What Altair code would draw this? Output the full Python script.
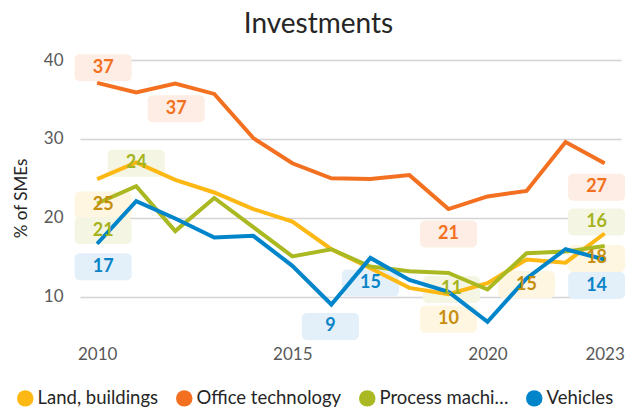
import altair as alt
import pandas as pd

years = list(range(2010, 2024))
series_names = ["Land, buildings", "Office technology", "Process machinery", "Vehicles"]
land = [24.9, 27.0, 24.8, 23.2, 21.1, 19.5, 16.0, 13.6, 11.1, 10.3, 11.7, 14.7, 14.3, 18.0]
office = [37.1, 35.9, 37.0, 35.7, 30.1, 26.9, 25.0, 24.9, 25.4, 21.1, 22.7, 23.4, 29.6, 26.9]
process = [21.8, 24.0, 18.3, 22.5, 18.8, 15.1, 16.0, 13.8, 13.2, 13.0, 10.9, 15.5, 15.7, 16.4]
vehicles = [16.7, 22.1, 19.9, 17.5, 17.7, 13.9, 9.0, 14.9, 12.1, 10.6, 6.8, 12.3, 16.0, 14.7]

line_colors = ["#FDB813", "#F37021", "#AAB922", "#0085CA"]
text_colors = ["#C68E0E", "#F37021", "#A5B41E", "#0A84C6"]
box_colors = ["#FEF6E1", "#FDEDE4", "#F4F6E3", "#E3F0FA"]

label_series = ["Office technology"] * 4 + ["Land, buildings"] * 4 + ["Process machinery"] * 4 + ["Vehicles"] * 4
label_years = [2010, 2012, 2019, 2023, 2010, 2019, 2021, 2023, 2010, 2011, 2020, 2023, 2010, 2016, 2017, 2023]
label_texts = ["37", "37", "21", "27", "25", "10", "15", "18", "21", "24", "11", "16", "17", "9", "15", "14"]

# placement of each label (pixel offsets from its point), layout only
placement = {
    ("Office technology", 2010): (6, -15), ("Office technology", 2012): (1, 25),
    ("Office technology", 2019): (0, 25), ("Office technology", 2023): (-8, 24),
    ("Land, buildings", 2010): (6, 26), ("Land, buildings", 2019): (0, 25),
    ("Land, buildings", 2021): (0, 25), ("Land, buildings", 2023): (-8, 25),
    ("Process machinery", 2010): (6, 27), ("Process machinery", 2011): (0, -23),
    ("Process machinery", 2020): (-36, 0), ("Process machinery", 2023): (-8, -24),
    ("Vehicles", 2010): (6, 23), ("Vehicles", 2016): (-1, 22),
    ("Vehicles", 2017): (0, 25), ("Vehicles", 2023): (-8, 26),
}

W, H = 541, 276
XDOM = [2009.56, 2023.42]
YDOM = [5, 40]
ppy = W / (XDOM[1] - XDOM[0])
ppu = H / (YDOM[1] - YDOM[0])

values = {"Land, buildings": land, "Office technology": office,
          "Process machinery": process, "Vehicles": vehicles}

rows = []
for s in series_names:
    for y, v in zip(years, values[s]):
        rows.append({"year": y, "value": v, "series": s})
df = pd.DataFrame(rows)

lrows = []
for s, yr, t in zip(label_series, label_years, label_texts):
    i = series_names.index(s)
    v = values[s][years.index(yr)]
    dx, dy = placement[(s, yr)]
    lx = yr + dx / ppy
    ly = v - dy / ppu
    lrows.append({
        "lx": lx, "ly": ly,
        "x1": lx - 28.5 / ppy, "x2": lx + 28.5 / ppy,
        "y1": ly - 13.5 / ppu, "y2": ly + 13.5 / ppu,
        "text": t, "tcolor": text_colors[i], "bcolor": box_colors[i],
    })
ldf = pd.DataFrame(lrows)

FONT = "Lato"
xaxis = alt.Axis(values=[2010, 2015, 2020, 2023], format="d", grid=False, domain=False,
                 ticks=False, labelFontSize=17, labelColor="#595959", labelPadding=10,
                 labelFont=FONT, title=None)
yaxis = alt.Axis(values=[10, 20, 30, 40], grid=True, gridColor="#d4d4d4", gridWidth=1.5,
                 domain=False, ticks=False, labelFontSize=17, labelColor="#595959",
                 labelPadding=17, labelFont=FONT, title="% of SMEs", titleFontSize=17,
                 titleFont=FONT, titleFontWeight="normal", titleColor="#262626",
                 titlePadding=13)
xscale = alt.Scale(domain=XDOM, nice=False, zero=False)
yscale = alt.Scale(domain=YDOM, nice=False, zero=False)

boxes = alt.Chart(ldf).mark_rect(cornerRadius=5).encode(
    x=alt.X("x1:Q", scale=xscale, axis=xaxis, title=None),
    x2="x2:Q",
    y=alt.Y("y1:Q", scale=yscale, axis=yaxis, title="% of SMEs"),
    y2="y2:Q",
    fill=alt.Fill("bcolor:N", scale=None),
)

lines = alt.Chart(df).mark_line(strokeWidth=4, strokeJoin="miter").encode(
    x=alt.X("year:Q", scale=xscale, axis=xaxis, title=None),
    y=alt.Y("value:Q", scale=yscale, axis=yaxis, title="% of SMEs"),
    color=alt.Color("series:N", scale=alt.Scale(domain=series_names, range=line_colors), legend=None),
    detail="series:N",
)

legend_pts = alt.Chart(df).mark_point(filled=True, size=1, opacity=1).encode(
    x=alt.X("year:Q", scale=xscale, axis=xaxis, title=None),
    y=alt.Y("value:Q", scale=yscale, axis=yaxis, title="% of SMEs"),
    fill=alt.Fill("series:N", scale=alt.Scale(domain=series_names, range=line_colors),
                  legend=alt.Legend(orient="none", legendX=-64, legendY=329,
                                    direction="horizontal", title=None,
                                    symbolType="circle", symbolSize=270,
                                    symbolStrokeWidth=0, labelFontSize=18.5,
                                    labelFont=FONT, labelColor="#262626",
                                    labelExpr="datum.label == 'Process machinery' ? 'Process machi\u2026' : datum.label",
                                    labelLimit=220, columnPadding=16, labelOffset=3)),
)

texts = alt.Chart(ldf).mark_text(font=FONT, fontSize=18, fontWeight="bold").encode(
    x=alt.X("lx:Q", scale=xscale, axis=xaxis, title=None),
    y=alt.Y("ly:Q", scale=yscale, axis=yaxis, title="% of SMEs"),
    text="text:N",
    color=alt.Color("tcolor:N", scale=None),
)

chart = alt.layer(boxes, lines, legend_pts, texts).properties(
    width=W, height=H,
    autosize=alt.AutoSizeParams(type="none"),
    padding={"left": 72, "top": 52, "right": 4, "bottom": 72},
    title=alt.TitleParams("Investments", fontSize=28, font=FONT, fontWeight="normal",
                          color="#262626", anchor="middle", dx=-32, dy=-8),
).configure_view(stroke=None)

chart.save("out.html", embed_options={"renderer": "svg", "actions": False})
